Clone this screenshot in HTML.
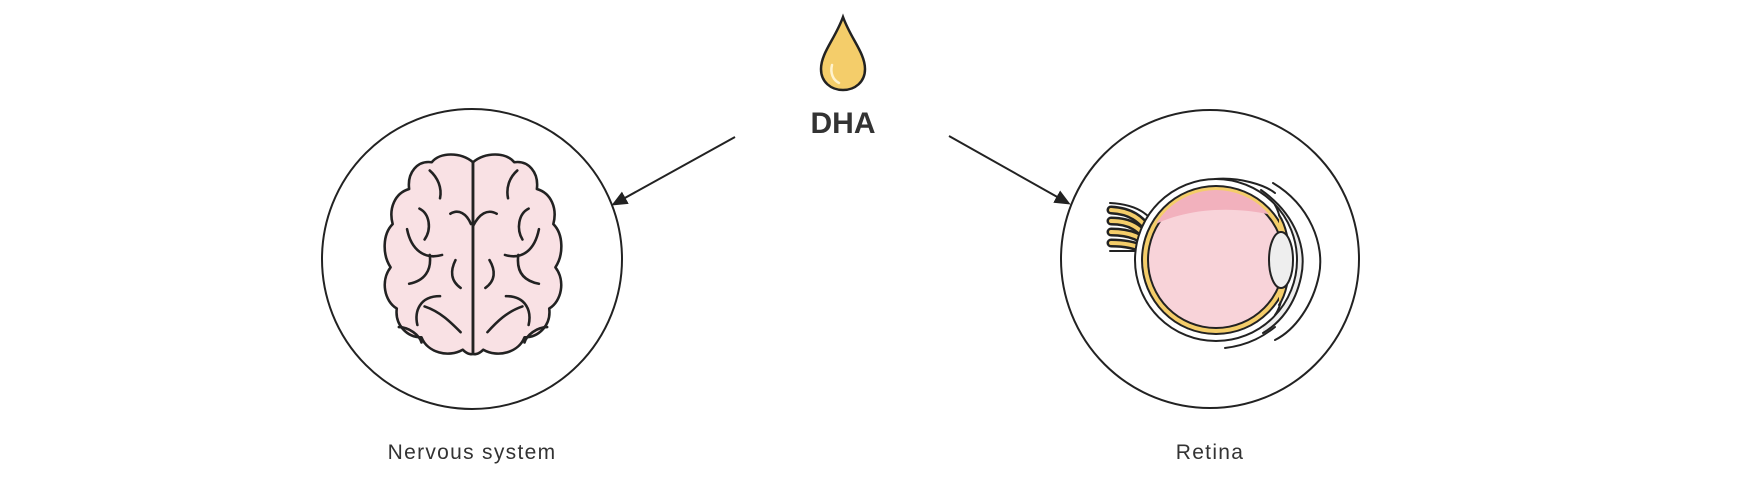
<!DOCTYPE html>
<html><head><meta charset="utf-8"><style>
html,body{margin:0;padding:0;background:#fff;width:1757px;height:488px;overflow:hidden}
svg{display:block}
</style></head><body>
<svg width="1757" height="488" viewBox="0 0 1757 488" xmlns="http://www.w3.org/2000/svg">
<defs>
<marker id="ah" markerWidth="16" markerHeight="14" refX="13" refY="7" orient="auto" markerUnits="userSpaceOnUse" viewBox="0 0 16 14">
<path d="M0,0 L16,7 L0,14 z" fill="#222"/></marker>
<clipPath id="eyeclip"><circle cx="1191" cy="255" r="70"/></clipPath>
</defs>
<!-- drop -->
<g transform="translate(17,1)">
<path d="M826,16 C818,38 804,52 804,68 C804,81 814,89 826,89 C838,89 848,81 848,68 C848,52 834,38 826,16 Z" fill="#f4cd6a" stroke="#222" stroke-width="2.5"/>
<path d="M815,64 C813,72 816,79 822,82" fill="none" stroke="#fff3cf" stroke-width="2.5" stroke-linecap="round"/>
</g>
<text x="843" y="133" text-anchor="middle" font-family="Liberation Sans, sans-serif" font-weight="bold" font-size="30" fill="#333">DHA</text>
<!-- arrows -->
<line x1="735" y1="137" x2="614" y2="204" stroke="#222" stroke-width="2" marker-end="url(#ah)"/>
<line x1="949" y1="136" x2="1068" y2="203" stroke="#222" stroke-width="2" marker-end="url(#ah)"/>
<!-- circles -->
<circle cx="472" cy="259" r="150" fill="none" stroke="#222" stroke-width="2"/>
<circle cx="1210" cy="259" r="149" fill="none" stroke="#222" stroke-width="2"/>
<!-- brain -->
<g transform="translate(473,257) scale(1.03) translate(-462,-252)">
<g stroke="#222" stroke-width="2.5" fill="#f9e1e4" stroke-linejoin="round" stroke-linecap="round">
<path id="lh" d="M462,160 C450,150 430,150 422,160 C408,158 398,170 400,186 C386,190 380,205 384,220 C374,230 374,250 382,262 C372,275 376,295 388,302 C386,318 398,330 412,330 C418,345 438,350 452,342 C458,348 462,346 462,346 Z"/>
<use href="#lh" transform="translate(924,0) scale(-1,1)"/>
<g fill="none">
<path d="M462,160 L462,346"/>
<path d="M420,168 C428,175 432,185 430,195"/>
<path d="M440,210 C448,205 456,210 460,220"/>
<path d="M410,205 C420,210 422,225 415,235"/>
<path d="M398,225 C402,245 415,255 432,250"/>
<path d="M420,250 C422,265 415,275 400,278"/>
<path d="M445,255 C440,265 440,275 450,282"/>
<path d="M430,290 C410,290 405,305 408,318"/>
<path d="M415,300 C430,305 440,315 450,325"/>
<path d="M390,320 C400,320 410,328 412,335"/>
<path d="M505,168 C497,175 494,185 496,195"/>
<path d="M462,222 C468,210 476,205 485,210"/>
<path d="M516,205 C506,210 504,225 510,235"/>
<path d="M526,225 C522,245 510,255 493,250"/>
<path d="M506,250 C504,265 510,275 526,278"/>
<path d="M478,255 C484,265 484,275 474,282"/>
<path d="M494,290 C514,290 519,305 516,318"/>
<path d="M510,300 C495,305 485,315 476,325"/>
<path d="M534,320 C524,320 514,328 512,335"/>
</g></g></g>
<!-- eye -->
<g transform="translate(25,5)" stroke-linecap="round">
<path d="M1248,178 C1285,200 1300,240 1294,270 C1288,300 1270,325 1250,335" fill="none" stroke="#222" stroke-width="2"/>
<path d="M1236,185 C1272,210 1282,245 1276,272 C1270,300 1255,318 1238,328" fill="#eeeeee" stroke="#222" stroke-width="2"/>
<path d="M1190,174 C1215,172 1240,180 1250,188" fill="none" stroke="#222" stroke-width="2"/>
<path d="M1200,343 C1225,340 1240,330 1250,322" fill="none" stroke="#222" stroke-width="2"/>
<g fill="none" stroke="#222" stroke-width="9">
<path d="M1086,205 C1105,206 1115,212 1130,232"/>
<path d="M1086,216 C1105,216 1115,222 1128,240"/>
<path d="M1086,227 C1105,227 1118,232 1128,245"/>
<path d="M1086,238 C1105,238 1118,242 1128,250"/>
</g>
<g fill="none" stroke="#f4cd6a" stroke-width="4">
<path d="M1086,205 C1105,206 1115,212 1130,232"/>
<path d="M1086,216 C1105,216 1115,222 1128,240"/>
<path d="M1086,227 C1105,227 1118,232 1128,245"/>
<path d="M1086,238 C1105,238 1118,242 1128,250"/>
</g>
<path d="M1085,198 C1105,199 1118,205 1126,214" fill="none" stroke="#222" stroke-width="2"/>
<path d="M1085,246 L1115,246 L1115,255" fill="none" stroke="#222" stroke-width="2"/>
<circle cx="1191" cy="255" r="81" fill="#fff" stroke="#222" stroke-width="2"/>
<circle cx="1191" cy="255" r="75" fill="#222"/>
<circle cx="1191" cy="255" r="73" fill="#f4cd6a"/>
<circle cx="1191" cy="255" r="69" fill="#222"/>
<g clip-path="url(#eyeclip)">
<circle cx="1191" cy="255" r="67" fill="#f8d3d9"/>
<path d="M1120,225 C1160,200 1220,200 1265,215 L1265,180 L1120,180 Z" fill="#f2b1bd"/>
</g>
<path d="M1250,200 C1262,220 1265,290 1250,310" fill="none" stroke="#222" stroke-width="2"/>
<path d="M1254,210 C1268,230 1268,280 1254,300" fill="#f4cd6a" stroke="#222" stroke-width="2"/>
<ellipse cx="1256" cy="255" rx="12" ry="28" fill="#eeeeee" stroke="#222" stroke-width="2"/>
</g>
<!-- labels -->
<text x="472" y="459" text-anchor="middle" font-family="Liberation Sans, sans-serif" font-size="21" letter-spacing="1.3" fill="#333">Nervous system</text>
<text x="1210" y="459" text-anchor="middle" font-family="Liberation Sans, sans-serif" font-size="21" letter-spacing="1.3" fill="#333">Retina</text>
</svg>
</body></html>
